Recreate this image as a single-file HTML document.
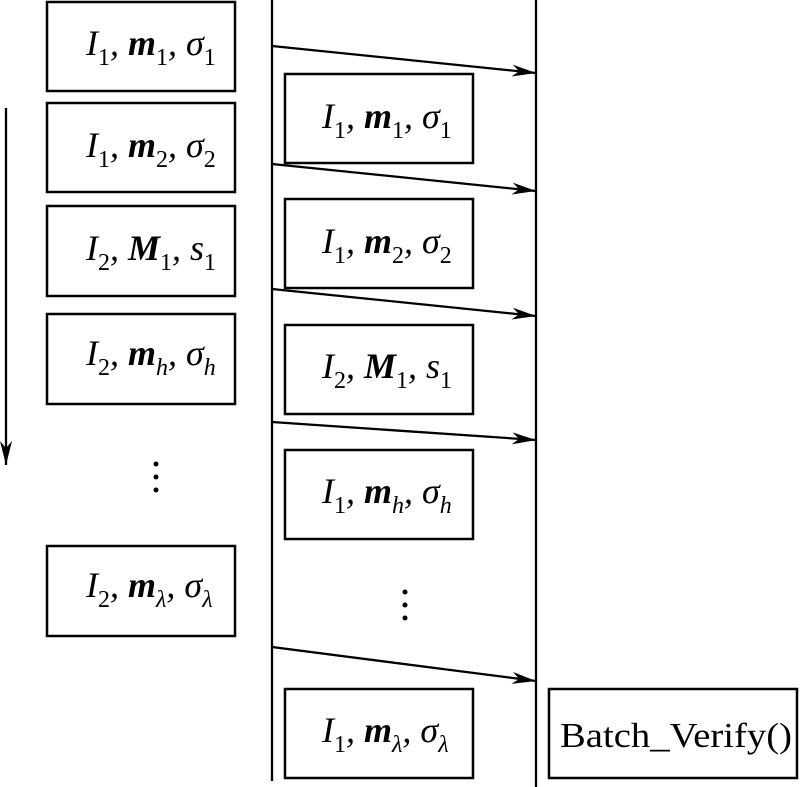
<!DOCTYPE html>
<html><head><meta charset="utf-8"><style>html,body{margin:0;padding:0;background:#fff}svg{display:block}text{font-family:"Liberation Serif","DejaVu Serif",serif}</style></head>
<body>
<svg width="800" height="787" viewBox="0 0 800 787" xmlns="http://www.w3.org/2000/svg">
<defs><marker id="a" markerWidth="24" markerHeight="12" refX="24" refY="6" orient="auto" markerUnits="userSpaceOnUse"><path d="M0,0 L24,6 L0,12 L7,6 Z" fill="#000"/></marker></defs>
<g fill="none" stroke="#000" stroke-width="2.5">
<rect x="47" y="2" width="188" height="89"/>
<rect x="47" y="103" width="188" height="89"/>
<rect x="47" y="206" width="188" height="90"/>
<rect x="47" y="314" width="188" height="90"/>
<rect x="47" y="546" width="188" height="90"/>
<rect x="285" y="74" width="188" height="89"/>
<rect x="285" y="199" width="188" height="89"/>
<rect x="285" y="325" width="188" height="89"/>
<rect x="285" y="450" width="188" height="89"/>
<rect x="285" y="689" width="188" height="89"/>
<rect x="549" y="689" width="248" height="89"/>
</g>
<g stroke="#000" stroke-width="2.3">
<line x1="272" y1="0" x2="272" y2="781"/>
<line x1="536" y1="0" x2="536" y2="787"/>
<line x1="6" y1="108" x2="6" y2="465" marker-end="url(#a)"/>
<line x1="272" y1="46" x2="536" y2="73" marker-end="url(#a)"/>
<line x1="272" y1="164" x2="536" y2="191" marker-end="url(#a)"/>
<line x1="272" y1="289" x2="536" y2="316" marker-end="url(#a)"/>
<line x1="272" y1="422" x2="536" y2="440" marker-end="url(#a)"/>
<line x1="272" y1="647" x2="536" y2="681" marker-end="url(#a)"/>
</g>
<g fill="#000">
<circle cx="156" cy="464" r="2.5"/><circle cx="156" cy="477" r="2.5"/><circle cx="156" cy="490" r="2.5"/>
<circle cx="405" cy="592" r="2.5"/><circle cx="405" cy="605" r="2.5"/><circle cx="405" cy="618" r="2.5"/>
</g>
<g font-size="36" font-style="italic">
<text x="86" y="55">I<tspan font-size="24" font-style="normal" dy="10">1</tspan><tspan dy="-10">, </tspan><tspan font-weight="bold">m</tspan><tspan font-size="24" font-style="normal" dy="10">1</tspan><tspan dy="-10">, σ</tspan><tspan font-size="24" font-style="normal" dy="10">1</tspan></text>
<text x="86" y="157">I<tspan font-size="24" font-style="normal" dy="10">1</tspan><tspan dy="-10">, </tspan><tspan font-weight="bold">m</tspan><tspan font-size="24" font-style="normal" dy="10">2</tspan><tspan dy="-10">, σ</tspan><tspan font-size="24" font-style="normal" dy="10">2</tspan></text>
<text x="86" y="260">I<tspan font-size="24" font-style="normal" dy="10">2</tspan><tspan dy="-10">, </tspan><tspan font-weight="bold">M</tspan><tspan font-size="24" font-style="normal" dy="10">1</tspan><tspan dy="-10">, s</tspan><tspan font-size="24" font-style="normal" dy="10">1</tspan></text>
<text x="86" y="365">I<tspan font-size="24" font-style="normal" dy="10">2</tspan><tspan dy="-10">, </tspan><tspan font-weight="bold">m</tspan><tspan font-size="24" dy="10">h</tspan><tspan dy="-10">, σ</tspan><tspan font-size="24" dy="10">h</tspan></text>
<text x="86" y="597">I<tspan font-size="24" font-style="normal" dy="10">2</tspan><tspan dy="-10">, </tspan><tspan font-weight="bold">m</tspan><tspan font-size="24" dy="10">λ</tspan><tspan dy="-10">, σ</tspan><tspan font-size="24" dy="10">λ</tspan></text>
<text x="322" y="128">I<tspan font-size="24" font-style="normal" dy="10">1</tspan><tspan dy="-10">, </tspan><tspan font-weight="bold">m</tspan><tspan font-size="24" font-style="normal" dy="10">1</tspan><tspan dy="-10">, σ</tspan><tspan font-size="24" font-style="normal" dy="10">1</tspan></text>
<text x="322" y="253">I<tspan font-size="24" font-style="normal" dy="10">1</tspan><tspan dy="-10">, </tspan><tspan font-weight="bold">m</tspan><tspan font-size="24" font-style="normal" dy="10">2</tspan><tspan dy="-10">, σ</tspan><tspan font-size="24" font-style="normal" dy="10">2</tspan></text>
<text x="322" y="378">I<tspan font-size="24" font-style="normal" dy="10">2</tspan><tspan dy="-10">, </tspan><tspan font-weight="bold">M</tspan><tspan font-size="24" font-style="normal" dy="10">1</tspan><tspan dy="-10">, s</tspan><tspan font-size="24" font-style="normal" dy="10">1</tspan></text>
<text x="322" y="503">I<tspan font-size="24" font-style="normal" dy="10">1</tspan><tspan dy="-10">, </tspan><tspan font-weight="bold">m</tspan><tspan font-size="24" dy="10">h</tspan><tspan dy="-10">, σ</tspan><tspan font-size="24" dy="10">h</tspan></text>
<text x="322" y="742">I<tspan font-size="24" font-style="normal" dy="10">1</tspan><tspan dy="-10">, </tspan><tspan font-weight="bold">m</tspan><tspan font-size="24" dy="10">λ</tspan><tspan dy="-10">, σ</tspan><tspan font-size="24" dy="10">λ</tspan></text>
</g>
<text x="560" y="747" font-size="35" textLength="232" lengthAdjust="spacingAndGlyphs">Batch_Verify()</text>
</svg>
</body></html>
